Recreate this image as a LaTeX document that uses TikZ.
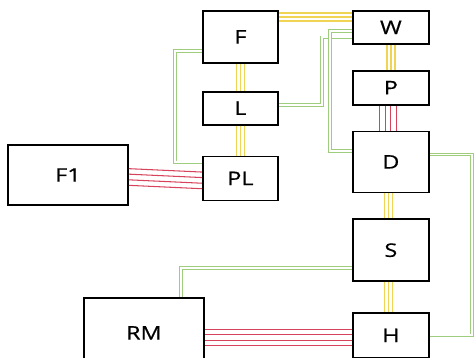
\documentclass[tikz,border=0pt]{standalone}
\usepackage{fontspec}
\newfontfamily\boxfont[FakeStretch=1.25,FakeBold=0.6]{Open Sans}
\usepackage{tikz}
\usetikzlibrary{positioning,calc}
\usepackage{xcolor}
\definecolor{wireyellow}{HTML}{F0D453}
\definecolor{wirered}{HTML}{D8435C}
\definecolor{wiregreen}{HTML}{9FCD7E}

\tikzset{
  unit/.style={draw,line width=1.5pt,inner sep=0pt,font=\boxfont\fontsize{16}{19}\selectfont},
  yline/.style={wireyellow,line width=1.2pt},
  rline/.style={wirered,line width=0.9pt},
  gline/.style={draw=wiregreen,double=white,line width=0.75pt,double distance=1.6pt},
}

\begin{document}
\begin{tikzpicture}[node distance=0.75cm]
\clip (0,0) rectangle (14.22,-10.74);
\useasboundingbox (0,0) rectangle (14.22,-10.74);
% left column
\node[unit,minimum width=2.25cm,minimum height=1.56cm,anchor=north west] (F) at (6.06,-0.3) {F};
\node[unit,minimum width=2.25cm,minimum height=0.99cm,below=0.81cm of F] (L) {L};
\node[unit,minimum width=2.25cm,minimum height=1.32cm,below=0.9cm of L] (PL) {PL};
\node[unit,minimum width=3.6cm,minimum height=1.8cm] (F1) at (2.04,-5.25) {F1};
% right column
\node[unit,minimum width=2.28cm,minimum height=0.99cm,anchor=north west] (W) at (10.56,-0.3) {W};
\node[unit,minimum width=2.28cm,minimum height=1.02cm,below=of W] (P) {P};
\node[unit,minimum width=2.28cm,minimum height=1.83cm,below=of P] (D) {D};
\node[unit,minimum width=2.28cm,minimum height=1.86cm,below=of D] (S) {S};
\node[unit,minimum width=2.28cm,minimum height=1.35cm,below=0.9cm of S] (H) {H};
\node[unit,minimum width=3.6cm,minimum height=2.1cm,anchor=north west] (RM) at (2.49,-8.91) {RM};

% yellow links
\foreach \s in {-0.12,0,0.12} {
  \draw[yline] ([xshift=\s cm]F.south) -- ([xshift=\s cm]L.north);
  \draw[yline] ([xshift=\s cm]L.south) -- ([xshift=\s cm]PL.north);
  \draw[yline] ([xshift=\s cm]W.south) -- ([xshift=\s cm]P.north);
  \draw[yline] ([xshift=\s cm-0.08cm]D.south) -- ([xshift=\s cm-0.08cm]S.north);
  \draw[yline] ([xshift=\s cm-0.08cm]S.south) -- ([xshift=\s cm-0.08cm]H.north);
  \draw[yline] ([yshift=\s cm-0.21cm]F.north east) -- ([yshift=\s cm-0.21cm]W.north west);
}
% red links
\foreach \s in {-0.25,-0.085,0.085,0.25} {
  \draw[rline] ([xshift=\s cm-0.09cm]P.south) -- ([xshift=\s cm-0.09cm]D.north);
  \draw[rline] ([yshift=\s cm-0.06cm]F1.east) -- ([yshift=\s cm-0.06cm]PL.west);
  \draw[rline] ([yshift=\s cm-0.06cm]H.west -| RM.east) -- ([yshift=\s cm-0.06cm]H.west);
}
% green links
\draw[gline] ([yshift=-0.42cm]F.west) -- ++(-0.81cm,0) |- ([yshift=0.48cm]PL.west);
\draw[gline] ([yshift=0.1cm]L.east) -- ++(1.29cm,0) |- ([yshift=-0.3cm]W.west);
\draw[gline] ([yshift=-0.1cm]W.west) -- ++(-0.66cm,0) |- ([yshift=0.32cm]D.west);
\draw[gline] ([yshift=0.22cm]D.east) -- ++(1.26cm,0) |- (H.east);
\draw[gline] ([yshift=-0.54cm]S.west) -| ([xshift=1.11cm]RM.north);
\end{tikzpicture}
\end{document}
